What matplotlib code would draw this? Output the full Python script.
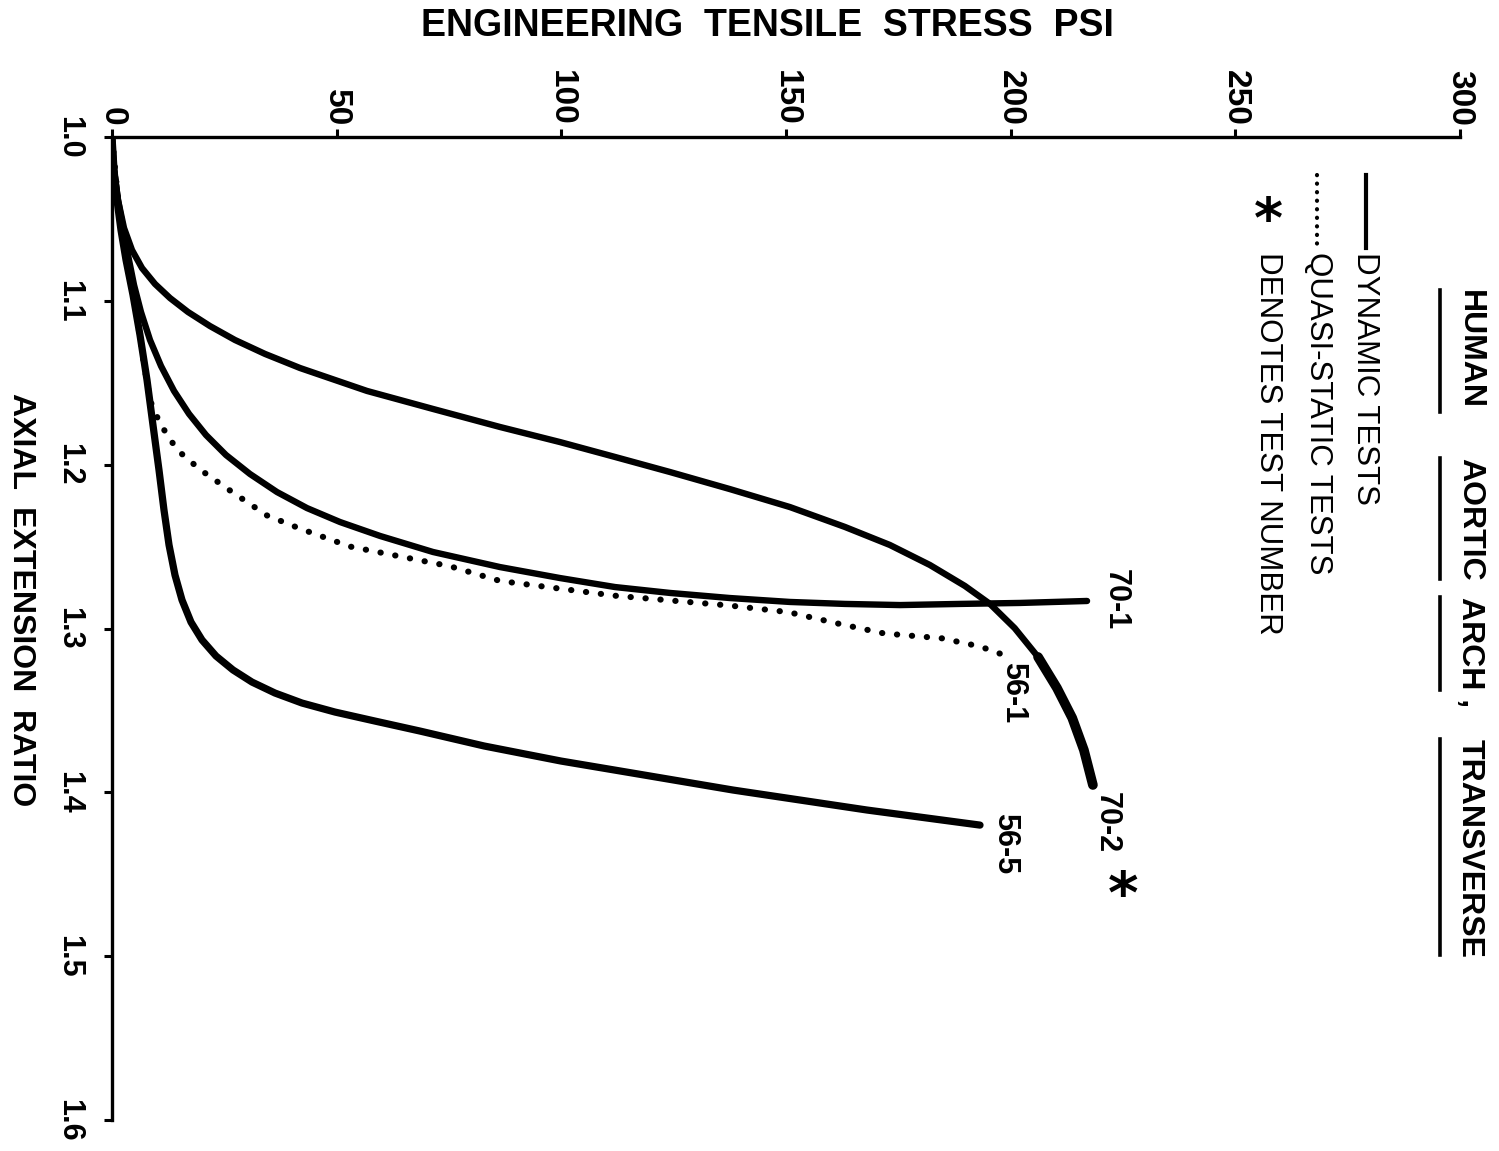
import matplotlib
matplotlib.use("Agg")
import matplotlib.pyplot as plt

# Engineering tensile stress (psi) vs axial extension ratio, one list pair per test
stress_70_2 = [0, 0.45, 1.34, 2.67, 4.45, 6.68, 9.57, 12.91, 16.91, 21.81, 27.37,
               34.05, 41.84, 56.75, 71.44, 86.35, 99.7, 111.95, 124.2, 137.5, 150.9,
               163.1, 173.1, 182.0, 189.8, 195.4, 200.9, 206.1, 210.3, 213.7, 216.3, 218.3]
ratio_70_2 = [1.000, 1.0201, 1.0385, 1.0555, 1.069, 1.080, 1.0897, 1.0983, 1.1068,
              1.1154, 1.1239, 1.1324, 1.141, 1.155, 1.166, 1.177, 1.1862, 1.1953,
              1.2045, 1.2149, 1.2259, 1.238, 1.249, 1.2612, 1.274, 1.285, 1.2998,
              1.3174, 1.3363, 1.3546, 1.3742, 1.3955]

stress_70_1 = [0, 0.45, 1.34, 2.45, 3.56, 4.90, 6.45, 8.46, 10.91, 13.80, 17.14,
               20.92, 25.37, 30.71, 36.72, 43.40, 50.74, 59.64, 71.44, 86.35, 99.7,
               111.95, 124.2, 137.5, 150.9, 163.1, 175.4, 188.7, 202.1, 217.0]
ratio_70_1 = [1.000, 1.0201, 1.0385, 1.0555, 1.072, 1.0903, 1.1068, 1.1239, 1.1398,
              1.155, 1.169, 1.1819, 1.1941, 1.2057, 1.2167, 1.2265, 1.235, 1.2435,
              1.2533, 1.2625, 1.2692, 1.2747, 1.2783, 1.2814, 1.2838, 1.285, 1.2857,
              1.285, 1.2844, 1.2832]

stress_56_1 = [0, 1.8, 4.7, 6.9, 8.5, 10.7, 14.5, 19.6, 26.9, 34.5, 41.8, 53.0,
               64.1, 75.2, 86.4, 112.0, 137.5, 150.5, 161.6, 171.8, 184.7, 193.2, 198.3]
ratio_56_1 = [1.000, 1.051, 1.093, 1.135, 1.161, 1.175, 1.191, 1.203, 1.217, 1.231,
              1.239, 1.250, 1.256, 1.262, 1.271, 1.280, 1.286, 1.290, 1.297, 1.303,
              1.306, 1.311, 1.316]

stress_56_5 = [0, 0.45, 1.11, 2.0, 3.12, 4.67, 6.23, 7.79, 9.12, 10.46, 11.57, 12.69,
               14.02, 15.58, 17.58, 20.03, 23.15, 26.93, 31.16, 36.28, 42.29, 49.63,
               58.53, 68.55, 82.79, 99.93, 117.06, 138.21, 168.03, 193.18]
ratio_56_5 = [1.000, 1.0201, 1.0385, 1.0568, 1.0751, 1.0964, 1.1209, 1.1483, 1.1758,
              1.2033, 1.2277, 1.249, 1.2674, 1.2826, 1.2961, 1.307, 1.3168, 1.3253,
              1.3327, 1.3394, 1.3455, 1.351, 1.3565, 1.3626, 1.3717, 1.3809, 1.3888,
              1.3986, 1.4108, 1.42]

stress_ticks = [0, 50, 100, 150, 200, 250, 300]
ratio_ticks = [1.0, 1.1, 1.2, 1.3, 1.4, 1.5, 1.6]
ratio_labels = ["1.0", "1.1", "1.2", "1.3", "1.4", "1.5", "1.6"]

FONT = "Liberation Sans"

W, H = 1499, 1151
fig = plt.figure(figsize=(W / 100, H / 100), dpi=100)
fig.patch.set_facecolor("white")


def fpos(px, py):
    return px / W, 1 - py / H


# stress runs left->right along the top, extension ratio runs downward
ax = fig.add_axes([112 / W, 1 - 1120 / H, 1348 / W, 983 / H])
ax.set_xlim(0, 300)
ax.set_ylim(1.6, 1.0)
for side in ("right", "bottom"):
    ax.spines[side].set_visible(False)
for side in ("top", "left"):
    ax.spines[side].set_linewidth(2.4)
ax.xaxis.tick_top()
ax.set_xticks(stress_ticks)
ax.set_xticklabels([str(v) for v in stress_ticks], rotation=-90,
                   fontfamily=FONT, fontweight="bold", fontsize=24)
ax.set_yticks(ratio_ticks)
ax.set_yticklabels(ratio_labels, rotation=-90, fontfamily=FONT,
                   fontweight="bold", fontsize=22, va="center")
ax.tick_params(axis="x", direction="out", length=6, width=2.2, pad=2)
ax.tick_params(axis="y", direction="out", length=6, width=2.2, pad=14)
ax.set_facecolor("none")

lw = 4.6
line_kw = dict(color="black", solid_capstyle="round", solid_joinstyle="round")
ax.plot(stress_56_1, ratio_56_1, color="black", lw=4.4,
        linestyle=(0, (0.05, 2.4)), dash_capstyle="round")
ax.plot(stress_70_2, ratio_70_2, lw=lw, **line_kw)
ax.plot(stress_70_2[-5:], ratio_70_2[-5:], lw=7.0, **line_kw)
ax.plot(stress_70_1, ratio_70_1, lw=lw, **line_kw)
ax.plot(stress_56_5, ratio_56_5, lw=lw + 0.6, **line_kw)

# test numbers at the end of each curve
label_kw = dict(textcoords="offset points", rotation=-90, ha="center", va="top",
                fontfamily=FONT, fontweight="bold", fontsize=22, annotation_clip=False)
ax.annotate("70-1", (stress_70_1[-1], ratio_70_1[-1]), xytext=(21, 23), **label_kw)
ax.annotate("56-1", (stress_56_1[-1], ratio_56_1[-1]), xytext=(7, -5), **label_kw)
ax.annotate("70-2", (stress_70_2[-1], ratio_70_2[-1]), xytext=(10, -5), **label_kw)
ax.annotate("56-5", (stress_56_5[-1], ratio_56_5[-1]), xytext=(18, 9), **label_kw)
ax.annotate("*", (stress_70_2[-1], ratio_70_2[-1]), xytext=(22, -80),
            textcoords="offset points", ha="center", va="center", fontsize=42,
            fontfamily="DejaVu Sans", fontweight="bold", annotation_clip=False)

# axis titles
fig.text(*fpos(767, 26), "ENGINEERING  TENSILE  STRESS  PSI", ha="center", va="center",
         fontfamily=FONT, fontweight="bold", fontsize=27)
fig.text(*fpos(21, 600), "AXIAL  EXTENSION  RATIO", ha="center", va="center",
         rotation=-90, fontfamily=FONT, fontweight="bold", fontsize=23)

# heading with underlined words
words = [("HUMAN", 290, 290, 412), ("AORTIC", 458, 458, 579),
         ("ARCH ,", 597, 597, 690), ("TRANSVERSE", 739, 739, 955)]
for word, top, u0, u1 in words:
    fig.text(*fpos(1470, top), word, rotation=-90, ha="center", va="top",
             fontfamily=FONT, fontweight="bold", fontsize=23)
    fig.add_artist(plt.Line2D([1440 / W, 1440 / W], [1 - u0 / H, 1 - u1 / H],
                              color="black", lw=2.6, transform=fig.transFigure))

# key
fig.add_artist(plt.Line2D([1366 / W, 1366 / W], [1 - 175 / H, 1 - 248 / H],
                          color="black", lw=3, transform=fig.transFigure))
fig.add_artist(plt.Line2D([1317 / W, 1317 / W], [1 - 175 / H, 1 - 248 / H],
                          color="black", lw=3, linestyle=(0, (0.05, 2.0)),
                          dash_capstyle="round", transform=fig.transFigure))
fig.text(*fpos(1268, 222), "*", ha="center", va="center", fontsize=40,
         fontfamily="DejaVu Sans", fontweight="bold")
for px, txt in [(1365, "DYNAMIC TESTS"), (1318, "QUASI-STATIC TESTS"),
                (1268, "DENOTES TEST NUMBER")]:
    fig.text(*fpos(px, 252), txt, rotation=-90, ha="center", va="top",
             fontfamily=FONT, fontsize=22.5)

fig.savefig("out.png", dpi=100, facecolor="white")
